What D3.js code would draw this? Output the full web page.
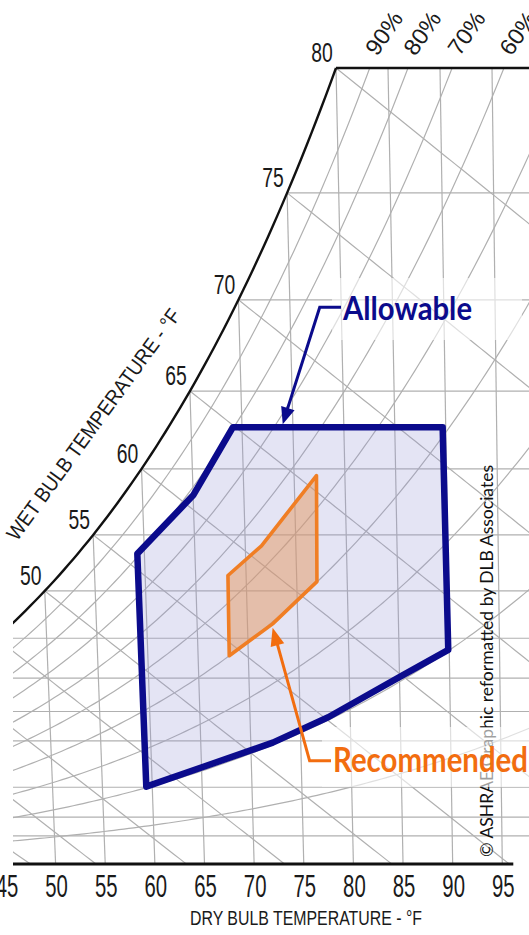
<!DOCTYPE html>
<html>
<head>
<meta charset="utf-8">
<script src="https://cdn.jsdelivr.net/npm/d3@7"></script>
<style>
  html, body { margin: 0; padding: 0; background: #fff; overflow: hidden; }
  svg { display: block; }
</style>
</head>
<body>
<svg id="chart" width="529" height="935"></svg>
<script>
// ---------------- chart data ----------------
const dryBulbTicks   = [45, 50, 55, 60, 65, 70, 75, 80, 85, 90, 95];      // °F
const wetBulbLabels  = [50, 55, 60, 65, 70, 75, 80];                      // °F
const wetBulbLines   = [25, 30, 35, 40, 45, 50, 55, 60, 65, 70, 75, 80];  // °F
const dewPointLines  = [0, 10, 20, 30, 35, 40, 45, 50, 55, 60, 65, 70, 75];
const rhCurves       = [10, 20, 30, 40, 50, 60, 70, 80, 90];              // %
const rhLabels       = [90, 80, 70, 60];                                  // %

// Allowable envelope: dry bulb (°F) and humidity ratio (lb water / lb dry air)
const allowableDryBulb  = [59.3, 65.0, 69.1, 89.7, 89.9, 85.3, 77.8, 72.2, 59.4];
const allowableHumRatio = [0.00867, 0.01030, 0.01220, 0.01220, 0.00598, 0.00527, 0.00410, 0.00339, 0.00216];

// Recommended envelope
const recommendedDryBulb  = [68.2, 71.6, 77.2, 77.0, 72.5, 68.1];
const recommendedHumRatio = [0.00806, 0.00889, 0.01085, 0.00789, 0.00671, 0.00582];

// ---------------- psychrometrics (sea level) ----------------
const P_ATM = 14.696; // psia
function pws(tF) {
  const T = tF + 459.67;
  if (tF >= 32) {
    return Math.exp(-1.0440397e4 / T - 1.129465e1 - 2.7022355e-2 * T + 1.289036e-5 * T * T
      - 2.4780681e-9 * T * T * T + 6.5459673 * Math.log(T));
  }
  return Math.exp(-1.0214165e4 / T - 4.8932428 - 5.3765794e-3 * T + 1.9202377e-7 * T * T
    + 3.5575832e-10 * T ** 3 - 9.0344688e-14 * T ** 4 + 4.1635019 * Math.log(T));
}
const wFromPw = pw => 0.621945 * pw / (P_ATM - pw);
const wSat = t => wFromPw(pws(t));
const wAtRH = (t, rh) => wFromPw(rh / 100 * pws(t));
function wAtWetBulb(t, twb) {
  const ws = wSat(twb);
  if (twb >= 32) return ((1093 - 0.556 * twb) * ws - 0.240 * (t - twb)) / (1093 + 0.444 * t - twb);
  return ((1220 - 0.04 * twb) * ws - 0.240 * (t - twb)) / (1220 + 0.444 * t - 0.48 * twb);
}

// ---------------- scales ----------------
const W_TOP = wSat(80);                       // chart top = 80 °F saturation
const yW = d3.scaleLinear().domain([0, W_TOP]).range([864, 68]);
const xBottom = d3.scaleLinear().domain([50, 95]).range([55.6, 502.3]);   // dry bulb at W = 0
const xTop    = d3.scaleLinear().domain([80, 95]).range([336, 492]);      // dry bulb at W = W_TOP
function pos(t, w) {
  const f = w / W_TOP;
  const xb = xBottom(t), xt = xTop(t);
  return [xb + (xt - xb) * f, yW(w)];
}
const line = d3.line();

// ---------------- svg ----------------
const svg = d3.select('#chart');
const defs = svg.append('defs');

defs.append('clipPath').attr('id', 'frame')
  .append('rect').attr('x', 13).attr('y', 0).attr('width', 520).attr('height', 864);

const satPts = d3.range(30, 80.01, 0.5).map(t => pos(t, wSat(t)));
defs.append('clipPath').attr('id', 'chartArea')
  .append('path')
  .attr('d', line([...satPts, [600, 68], [600, 864], [-250, 864]]) + 'Z');

const frame = svg.append('g').attr('clip-path', 'url(#frame)');
const grid = frame.append('g').attr('clip-path', 'url(#chartArea)')
  .attr('fill', 'none').attr('stroke', '#b0b0b0').attr('stroke-width', 1.2);

// dry bulb lines
dryBulbTicks.concat([100]).forEach(t => {
  grid.append('path').attr('d', line([pos(t, 0), pos(t, Math.min(wSat(t), W_TOP))]));
});
// dew point (humidity ratio) lines
dewPointLines.forEach(td => {
  const w = wSat(td);
  grid.append('path').attr('d', line([pos(td, w), pos(120, w)]));
});
// wet bulb lines
wetBulbLines.forEach(twb => {
  const pts = [];
  for (let t = twb; t <= twb + 80; t += 0.5) {
    const w = wAtWetBulb(t, twb);
    pts.push(pos(t, w));
    if (w < 0) break;
  }
  grid.append('path').attr('d', line(pts));
});
// relative humidity curves
rhCurves.forEach(rh => {
  const pts = d3.range(-10, 120.01, 0.5).map(t => pos(t, wAtRH(t, rh)));
  grid.append('path').attr('d', line(pts));
});

// ---------------- envelopes ----------------
const allowablePts = allowableDryBulb.map((t, i) => pos(t, allowableHumRatio[i]));
frame.append('path')
  .attr('d', line(allowablePts) + 'Z')
  .attr('fill', 'rgb(150,150,212)').attr('fill-opacity', 0.26)
  .attr('stroke', '#0b0b8c').attr('stroke-width', 6.5).attr('stroke-linejoin', 'round');

const recommendedPts = recommendedDryBulb.map((t, i) => pos(t, recommendedHumRatio[i]));
frame.append('path')
  .attr('d', line(recommendedPts) + 'Z')
  .attr('fill', 'rgb(228,152,96)').attr('fill-opacity', 0.5)
  .attr('stroke', '#f07e24').attr('stroke-width', 3.6).attr('stroke-linejoin', 'round');

// ---------------- saturation curve, top edge, axis ----------------
frame.append('path').attr('d', line(satPts))
  .attr('fill', 'none').attr('stroke', '#111').attr('stroke-width', 2.4);
frame.append('path').attr('d', line([pos(80, W_TOP), [540, yW(W_TOP)]]))
  .attr('fill', 'none').attr('stroke', '#111').attr('stroke-width', 2.4);
svg.append('path').attr('d', line([[13, yW(0)], [xBottom(95) + 11, yW(0)]]))
  .attr('stroke', '#111').attr('stroke-width', 3);

// ---------------- text ----------------
const FONT = '"Liberation Sans", Arial, sans-serif';

// dry bulb tick labels
svg.append('g').selectAll('text').data(dryBulbTicks).join('text')
  .attr('x', d => xBottom(d) + 1).attr('y', 897)
  .attr('text-anchor', 'middle')
  .attr('font-family', FONT).attr('font-size', 31).attr('fill', '#1a1a1a')
  .attr('textLength', 22.6).attr('lengthAdjust', 'spacingAndGlyphs')
  .text(d => d);

svg.append('text')
  .attr('x', 306).attr('y', 925).attr('text-anchor', 'middle')
  .attr('font-family', FONT).attr('font-size', 21).attr('fill', '#1a1a1a')
  .attr('textLength', 232).attr('lengthAdjust', 'spacingAndGlyphs')
  .text('DRY BULB TEMPERATURE - °F');

// wet bulb labels along the saturation curve
svg.append('g').selectAll('text').data(wetBulbLabels).join('text')
  .attr('x', d => pos(d, Math.min(wSat(d), W_TOP))[0] - 14)
  .attr('y', d => pos(d, Math.min(wSat(d), W_TOP))[1] - 6)
  .attr('text-anchor', 'middle')
  .attr('font-family', FONT).attr('font-size', 28).attr('fill', '#1a1a1a')
  .attr('textLength', 21.5).attr('lengthAdjust', 'spacingAndGlyphs')
  .text(d => d);

svg.append('text')
  .attr('transform', 'translate(17,542) rotate(-54)')
  .attr('font-family', FONT).attr('font-size', 21).attr('fill', '#1a1a1a')
  .attr('textLength', 280).attr('lengthAdjust', 'spacingAndGlyphs')
  .text('WET BULB TEMPERATURE - °F');

// relative humidity labels where each curve meets the top edge
function tAtTop(rh) {
  let lo = 60, hi = 120;
  for (let i = 0; i < 50; i++) {
    const mid = (lo + hi) / 2;
    if (wAtRH(mid, rh) > W_TOP) hi = mid; else lo = mid;
  }
  return lo;
}
svg.append('g').selectAll('text').data(rhLabels).join('text')
  .attr('transform', d => {
    const p = pos(tAtTop(d), W_TOP);
    return `translate(${p[0] + 14},${p[1] - 35}) rotate(-55)`;
  })
  .attr('text-anchor', 'middle').attr('dy', '0.36em')
  .attr('font-family', FONT).attr('font-size', 23).attr('fill', '#1a1a1a')
  .attr('textLength', 47).attr('lengthAdjust', 'spacingAndGlyphs')
  .text(d => d + '%');

// credit
svg.append('text')
  .attr('transform', 'translate(493,857) rotate(-90)')
  .attr('font-family', 'Lato, "Open Sans", sans-serif').attr('font-size', 18).attr('fill', '#111')
  .attr('textLength', 392).attr('lengthAdjust', 'spacingAndGlyphs')
  .text('© ASHRAE Graphic reformatted by DLB Associates');

// ---------------- callouts ----------------
function arrowHead(tip, from, len, half) {
  const dx = tip[0] - from[0], dy = tip[1] - from[1];
  const L = Math.hypot(dx, dy), ux = dx / L, uy = dy / L;
  const bx = tip[0] - ux * len, by = tip[1] - uy * len;
  return line([[bx - uy * half, by + ux * half], tip, [bx + uy * half, by - ux * half]]) + 'Z';
}

// Allowable
const NAVY = '#0b0b8c';
svg.append('rect').attr('x', 332).attr('y', 278).attr('width', 190).attr('height', 62)
  .attr('fill', '#fff').attr('fill-opacity', 0.6);
const aTipBase = pos(74, allowableHumRatio[2]);
const aTip = [aTipBase[0], aTipBase[1] - 3];
const aElbow = [aTip[0] + 37, aTip[1] - 117];
svg.append('path').attr('d', line([[341, aElbow[1]], aElbow, [aTip[0] + 3, aTip[1] - 10]]))
  .attr('fill', 'none').attr('stroke', NAVY).attr('stroke-width', 3);
svg.append('path').attr('d', arrowHead(aTip, aElbow, 17, 7)).attr('fill', NAVY);
svg.append('text').attr('x', 343).attr('y', 320)
  .attr('font-family', 'Lato, "Open Sans", sans-serif').attr('font-weight', 'bold')
  .attr('font-size', 32).attr('fill', NAVY)
  .attr('textLength', 129).attr('lengthAdjust', 'spacingAndGlyphs')
  .text('Allowable');

// Recommended
const ORANGE = '#f26d0f';
svg.append('rect').attr('x', 322).attr('y', 727).attr('width', 210).attr('height', 60)
  .attr('fill', '#fff').attr('fill-opacity', 0.6);
const rTipBase = pos(72.5, recommendedHumRatio[4]);
const rTip = [rTipBase[0], rTipBase[1] + 4];
const rElbow = [rTip[0] + 37, rTip[1] + 133];
svg.append('path').attr('d', line([[331, rElbow[1]], rElbow, [rTip[0] + 3, rTip[1] + 10]]))
  .attr('fill', 'none').attr('stroke', ORANGE).attr('stroke-width', 3);
svg.append('path').attr('d', arrowHead(rTip, rElbow, 18, 7)).attr('fill', ORANGE);
svg.append('text').attr('x', 333).attr('y', 772)
  .attr('font-family', 'Lato, "Open Sans", sans-serif').attr('font-weight', 'bold')
  .attr('font-size', 34).attr('fill', ORANGE)
  .attr('textLength', 195).attr('lengthAdjust', 'spacingAndGlyphs')
  .text('Recommended');
</script>
</body>
</html>
